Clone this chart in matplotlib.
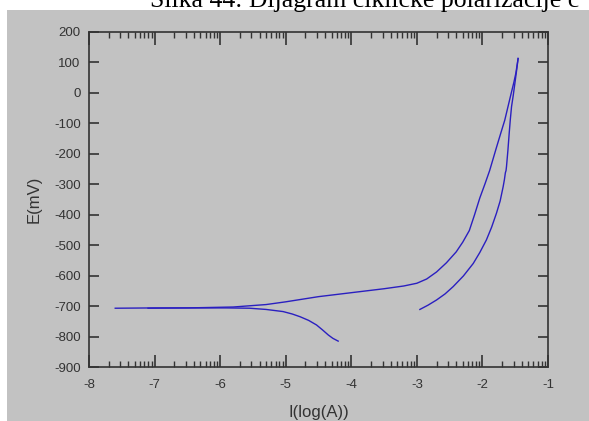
import numpy as np
import matplotlib.pyplot as plt
from matplotlib.patches import Rectangle
from matplotlib.ticker import FixedLocator

# cathodic branch, from the start of the scan towards E_corr
cath_x = [-4.20, -4.28, -4.35, -4.44, -4.53, -4.65, -4.78, -4.90, -5.04, -5.30, -5.55, -5.90, -6.40, -7.00, -7.60]
cath_y = [-815, -806, -795, -778, -762, -747, -735, -726, -718, -711, -707, -706, -706, -706, -707]

# anodic forward branch up to the vertex
anod_x = [-7.10, -6.50, -5.80, -5.30, -5.00, -4.50, -4.00, -3.50, -3.20, -3.00, -2.85,
          -2.70, -2.55, -2.40, -2.30, -2.20, -2.12, -2.04, -1.96, -1.89, -1.79, -1.72,
          -1.66, -1.61, -1.56, -1.52, -1.49, -1.456]
anod_y = [-707, -706, -703, -695, -686, -669, -656, -643, -634, -625, -611,
          -588, -558, -522, -490, -452, -400, -345, -298, -255, -182, -132,
          -90, -45, 0, 35, 65, 113]

# reverse scan
rev_x = [-1.456, -1.475, -1.506, -1.530, -1.556, -1.575, -1.592, -1.612, -1.633, -1.640,
         -1.650, -1.665, -1.684, -1.730, -1.786, -1.860, -1.940, -2.040, -2.140, -2.290,
         -2.446, -2.570, -2.700, -2.830, -2.954]
rev_y = [113, 80, 30, -8, -45, -88, -133, -190, -242, -255, -262, -285, -308, -355,
         -395, -441, -483, -524, -560, -601, -636, -660, -680, -697, -711]

x_ticks = [-8, -7, -6, -5, -4, -3, -2, -1]
y_ticks = [200, 100, 0, -100, -200, -300, -400, -500, -600, -700, -800, -900]

W, H = 589, 421
gray = "#c2c2c2"
line_col = "#2a1fc0"
txt_col = "#333333"

plt.rcParams["axes.unicode_minus"] = False

fig = plt.figure(figsize=(W / 100, H / 100), dpi=100, facecolor="white")
fig.patches.append(Rectangle((7 / W, 0), 1 - 7 / W, 1 - 10 / H, transform=fig.transFigure,
                             facecolor=gray, edgecolor="none", zorder=-10))

# caption of the page, cut by the screenshot
fig.text(150 / W, 1 - 7 / H, "Slika 44: Dijagram cikličke polarizacije c",
         fontsize=18.5, family="Liberation Serif", ha="left", va="baseline", color="black")

ax = fig.add_axes([89 / W, 1 - 367 / H, (548 - 89) / W, (367 - 32) / H])
ax.set_facecolor(gray)

ax.plot(cath_x, cath_y, color=line_col, lw=1.0)
ax.plot(anod_x, anod_y, color=line_col, lw=1.0)
ax.plot(rev_x, rev_y, color=line_col, lw=1.0)

ax.set_xlim(-8, -1)
ax.set_ylim(-900, 200)
ax.set_xticks(x_ticks)
ax.set_yticks(y_ticks)
minor = [d + np.log10(k) for d in x_ticks[:-1] for k in range(2, 10)]
ax.xaxis.set_minor_locator(FixedLocator(minor))

ax.tick_params(axis="both", which="major", direction="in", top=True, right=True,
               length=7, width=1.2, color="#333333", labelsize=9.5, labelcolor=txt_col,
               labelfontfamily="Liberation Sans")
ax.tick_params(axis="x", which="major", length=9, pad=9)
ax.tick_params(axis="y", which="major", pad=6)
ax.tick_params(axis="x", which="minor", direction="in", top=True, length=4.5, width=1,
               color="#333333")

for s in ax.spines.values():
    s.set_color("#333333")
    s.set_linewidth(1.2)

ax.set_xlabel("I(log(A))", fontsize=12, color=txt_col, family="Liberation Sans", labelpad=10)
ax.set_ylabel("E(mV)", fontsize=12, color=txt_col, family="Liberation Sans", labelpad=9)

fig.savefig("out.png", dpi=100, facecolor="white")
